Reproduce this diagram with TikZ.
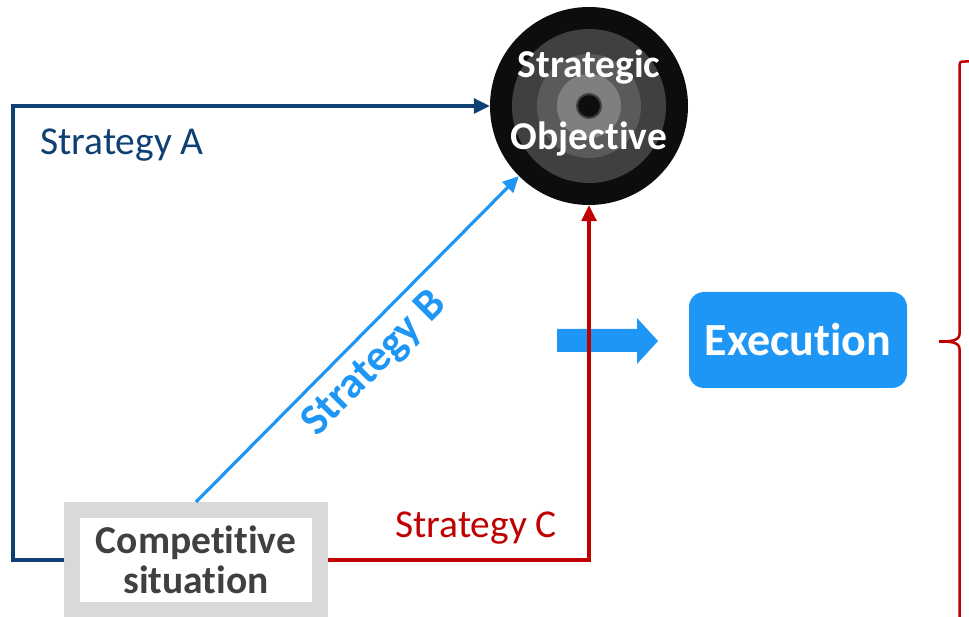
\documentclass[tikz,border=0pt]{standalone}
\usepackage{fontspec}
\setmainfont[Ligatures={NoCommon}]{Carlito}
\usetikzlibrary{arrows.meta}
\definecolor{darkblue}{RGB}{14,64,115}
\definecolor{lightblue}{RGB}{30,150,245}
\definecolor{darkred}{RGB}{192,0,0}
\definecolor{boxgray}{RGB}{217,217,217}
\definecolor{textgray}{RGB}{64,64,64}
\definecolor{ringA}{RGB}{13,13,13}
\definecolor{ringB}{RGB}{64,64,64}
\definecolor{ringC}{RGB}{90,90,90}
\definecolor{ringD}{RGB}{127,127,127}
\tikzset{
  conn/.style={line width=3.2pt, -{Triangle[length=16pt,width=15pt]}},
  lbl/.style={font=\fontsize{39.5}{40}\selectfont, inner sep=0pt},
  objtext/.style={font=\bfseries\fontsize{39.5}{40}\selectfont, text=white, inner sep=0pt},
}
\begin{document}
\begin{tikzpicture}[x=1pt,y=-1pt]
\useasboundingbox (0,0) rectangle (969,617);
% target
\node[circle, fill=ringA, minimum size=198pt, inner sep=0pt] (obj) at (589,106) {};
\fill[ringB] (obj.center) circle[radius=77pt];
\fill[ringC] (obj.center) circle[radius=52pt];
\fill[ringD] (obj.center) circle[radius=32pt];
\fill[ringA, draw=ringB, line width=2pt] (obj.center) circle[radius=12pt];
\node[objtext, anchor=base] (t1) at (589,78) {Strategic};
\node[objtext, anchor=base] (t2) at (589,150) {Objective};
% competitive situation
\node[draw=boxgray, line width=16pt, fill=white, minimum width=248pt, minimum height=100pt,
      align=center, text=textgray, font=\bfseries\fontsize{39.5}{40}\selectfont, inner sep=0pt] (comp) at (196,560) {Competitive\\situation};
% block arrow
\fill[lightblue] (557,329) -- (637,329) -- (637,318) -- (658,341) -- (637,364) -- (637,352) -- (557,352) -- cycle;
% connectors
\draw[conn, darkblue] (comp.west) -- ++(-51,0) |- (obj.west);
\draw[conn, lightblue] (comp.north) -- (obj.south west);
\draw[conn, darkred] (comp.east) -| (obj.south);
% labels
\node[lbl, text=darkblue, anchor=base west] (la) at (40,155) {Strategy A};
\node[lbl, text=darkred, anchor=base west] (lc) at (395,537) {Strategy C};
\node[lbl, text=lightblue, font=\bfseries\fontsize{44}{44}\selectfont, rotate=45] (lb) at (375,364) {Strategy B};
% execution
\node[fill=lightblue, rounded corners=15pt, minimum width=218pt, minimum height=96pt, inner sep=0pt,
      text=white, font=\bfseries\fontsize{46}{46}\selectfont] (exec) at (798,340) {Execution};
% brace
\draw[darkred, line width=2.5pt] (970,61.5) -- (965,61.5) .. controls (960,61.5) .. (959.5,66)
  -- (959.5,334) .. controls (959.5,341) and (950,341.5) .. (939,341.5)
  .. controls (950,341.5) and (959.5,342) .. (959.5,349) -- (959.5,630);
\end{tikzpicture}
\end{document}
